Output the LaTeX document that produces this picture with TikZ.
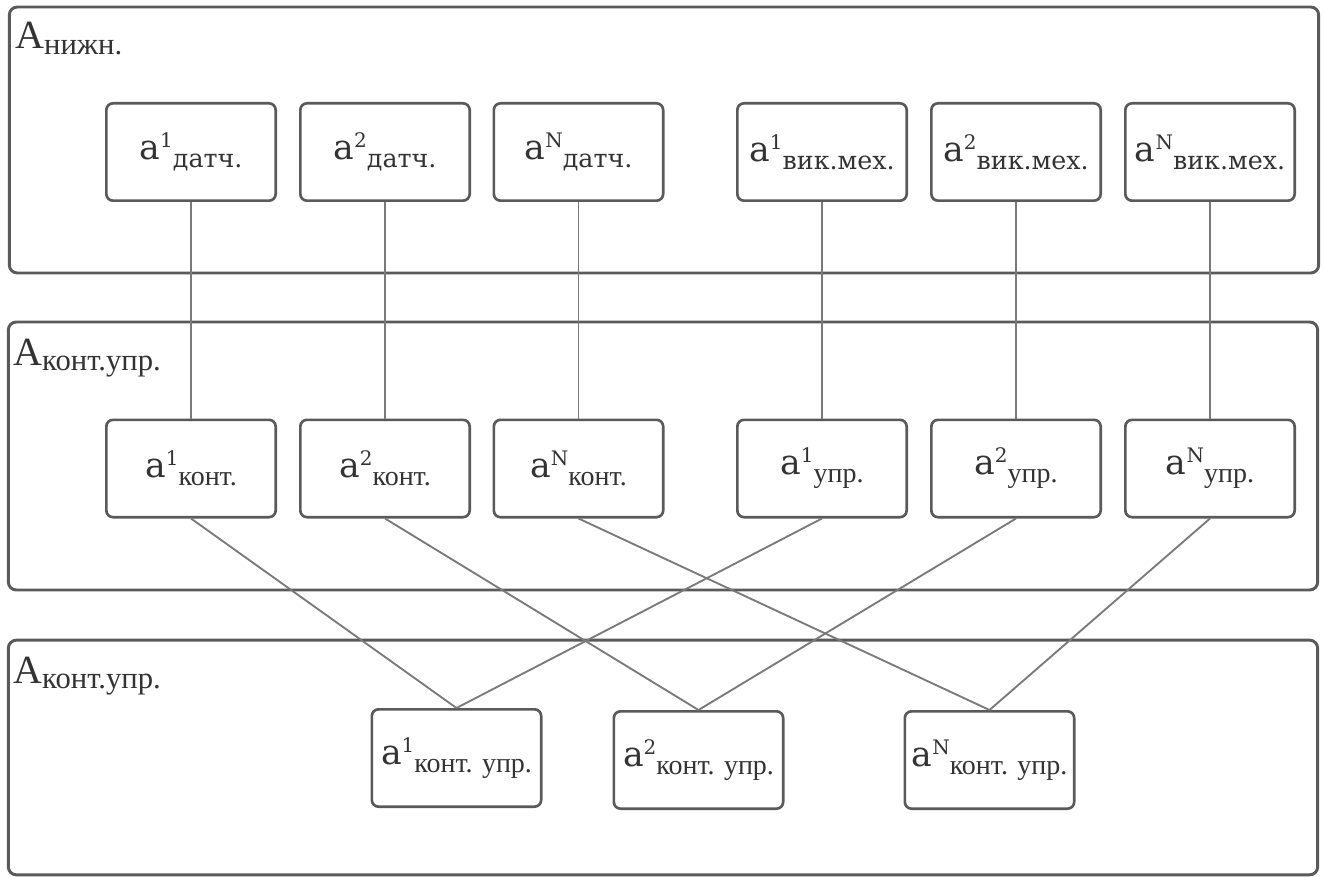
\documentclass[tikz,border=0pt]{standalone}
\usepackage{fontspec}
\setmainfont{DejaVu Serif}
\newfontfamily\lblfont{Liberation Serif}
\definecolor{framegray}{HTML}{5A5A5A}
\definecolor{linkgray}{HTML}{7A7A7A}
\definecolor{txtgray}{HTML}{333333}
% element label: a, raised index, lowered role (slab face)
\newcommand{\elem}[2]{{\fontsize{26}{30}\selectfont a}\raisebox{9pt}{\fontsize{15}{18}\selectfont #1}\raisebox{-6pt}{\fontsize{19}{22}\selectfont #2}}
% element label with the role set in the narrow serif face
\newcommand{\elemn}[2]{{\fontsize{26}{30}\selectfont a}\raisebox{9pt}{\fontsize{15}{18}\selectfont #1}\raisebox{-6pt}{\lblfont\fontsize{21}{24}\selectfont #2}}
% layer label: A with lowered role
\newcommand{\layerlabel}[1]{{\lblfont\fontsize{30}{34}\selectfont A\raisebox{-4pt}{\fontsize{23}{26}\selectfont #1}}}
\begin{document}
\begin{tikzpicture}[x=0.75pt,y=-0.75pt,
  layer/.style={draw=framegray, line width=2.2pt, rounded corners=6pt, inner sep=0pt, minimum width=982pt},
  unit/.style={draw=framegray, line width=2pt, rounded corners=5pt, minimum width=127pt, minimum height=73pt, inner sep=0pt, text=txtgray},
  link/.style={draw=linkgray, line width=1.4pt},
  tag/.style={anchor=base west, inner sep=0pt, text=txtgray}]
\useasboundingbox (0,0) rectangle (1324,877);

% layers
\node[layer, minimum height=199.5pt] (L1) at (664,140) {};
\node[layer, minimum height=201pt] (L2) at (663,456) {};
\node[layer, minimum height=176pt] (L3) at (663,757.5) {};
\node[tag] (T1) at (15,49) {\layerlabel{нижн.}};
\node[tag] (T2) at (13,365) {\layerlabel{конт.упр.}};
\node[tag] (T3) at (13,683) {\layerlabel{конт.упр.}};

% lower level units
\node[unit] (s1) at (191,152) {\elem{1}{датч.}};
\node[unit] (s2) at (385,152) {\elem{2}{датч.}};
\node[unit] (s3) at (578.5,152) {\elem{N}{датч.}};
\node[unit] (e1) at (822,152) {\elem{1}{вик.мех.}};
\node[unit] (e2) at (1016,152) {\elem{2}{вик.мех.}};
\node[unit] (e3) at (1210,152) {\elem{N}{вик.мех.}};

% control level units
\node[unit] (k1) at (191,468.5) {\elemn{1}{конт.}};
\node[unit] (k2) at (385,468.5) {\elemn{2}{конт.}};
\node[unit] (k3) at (578.5,468.5) {\elemn{N}{конт.}};
\node[unit] (u1) at (822,468.5) {\elemn{1}{упр.}};
\node[unit] (u2) at (1016,468.5) {\elemn{2}{упр.}};
\node[unit] (u3) at (1210,468.5) {\elemn{N}{упр.}};

% combined units
\node[unit] (c1) at (456.5,758) {\elemn{1}{конт. упр.}};
\node[unit] (c2) at (698.5,760) {\elemn{2}{конт. упр.}};
\node[unit] (c3) at (989.5,760) {\elemn{N}{конт. упр.}};

% connections
\foreach \a/\b in {s1/k1, s2/k2, s3/k3, e1/u1, e2/u2, e3/u3}
  \draw[link] (\a.south) -- (\b.north);
\foreach \a/\b in {k1/c1, k2/c2, k3/c3, u1/c1, u2/c2, u3/c3}
  \draw[link] (\a.south) -- (\b.north);
\end{tikzpicture}
\end{document}
